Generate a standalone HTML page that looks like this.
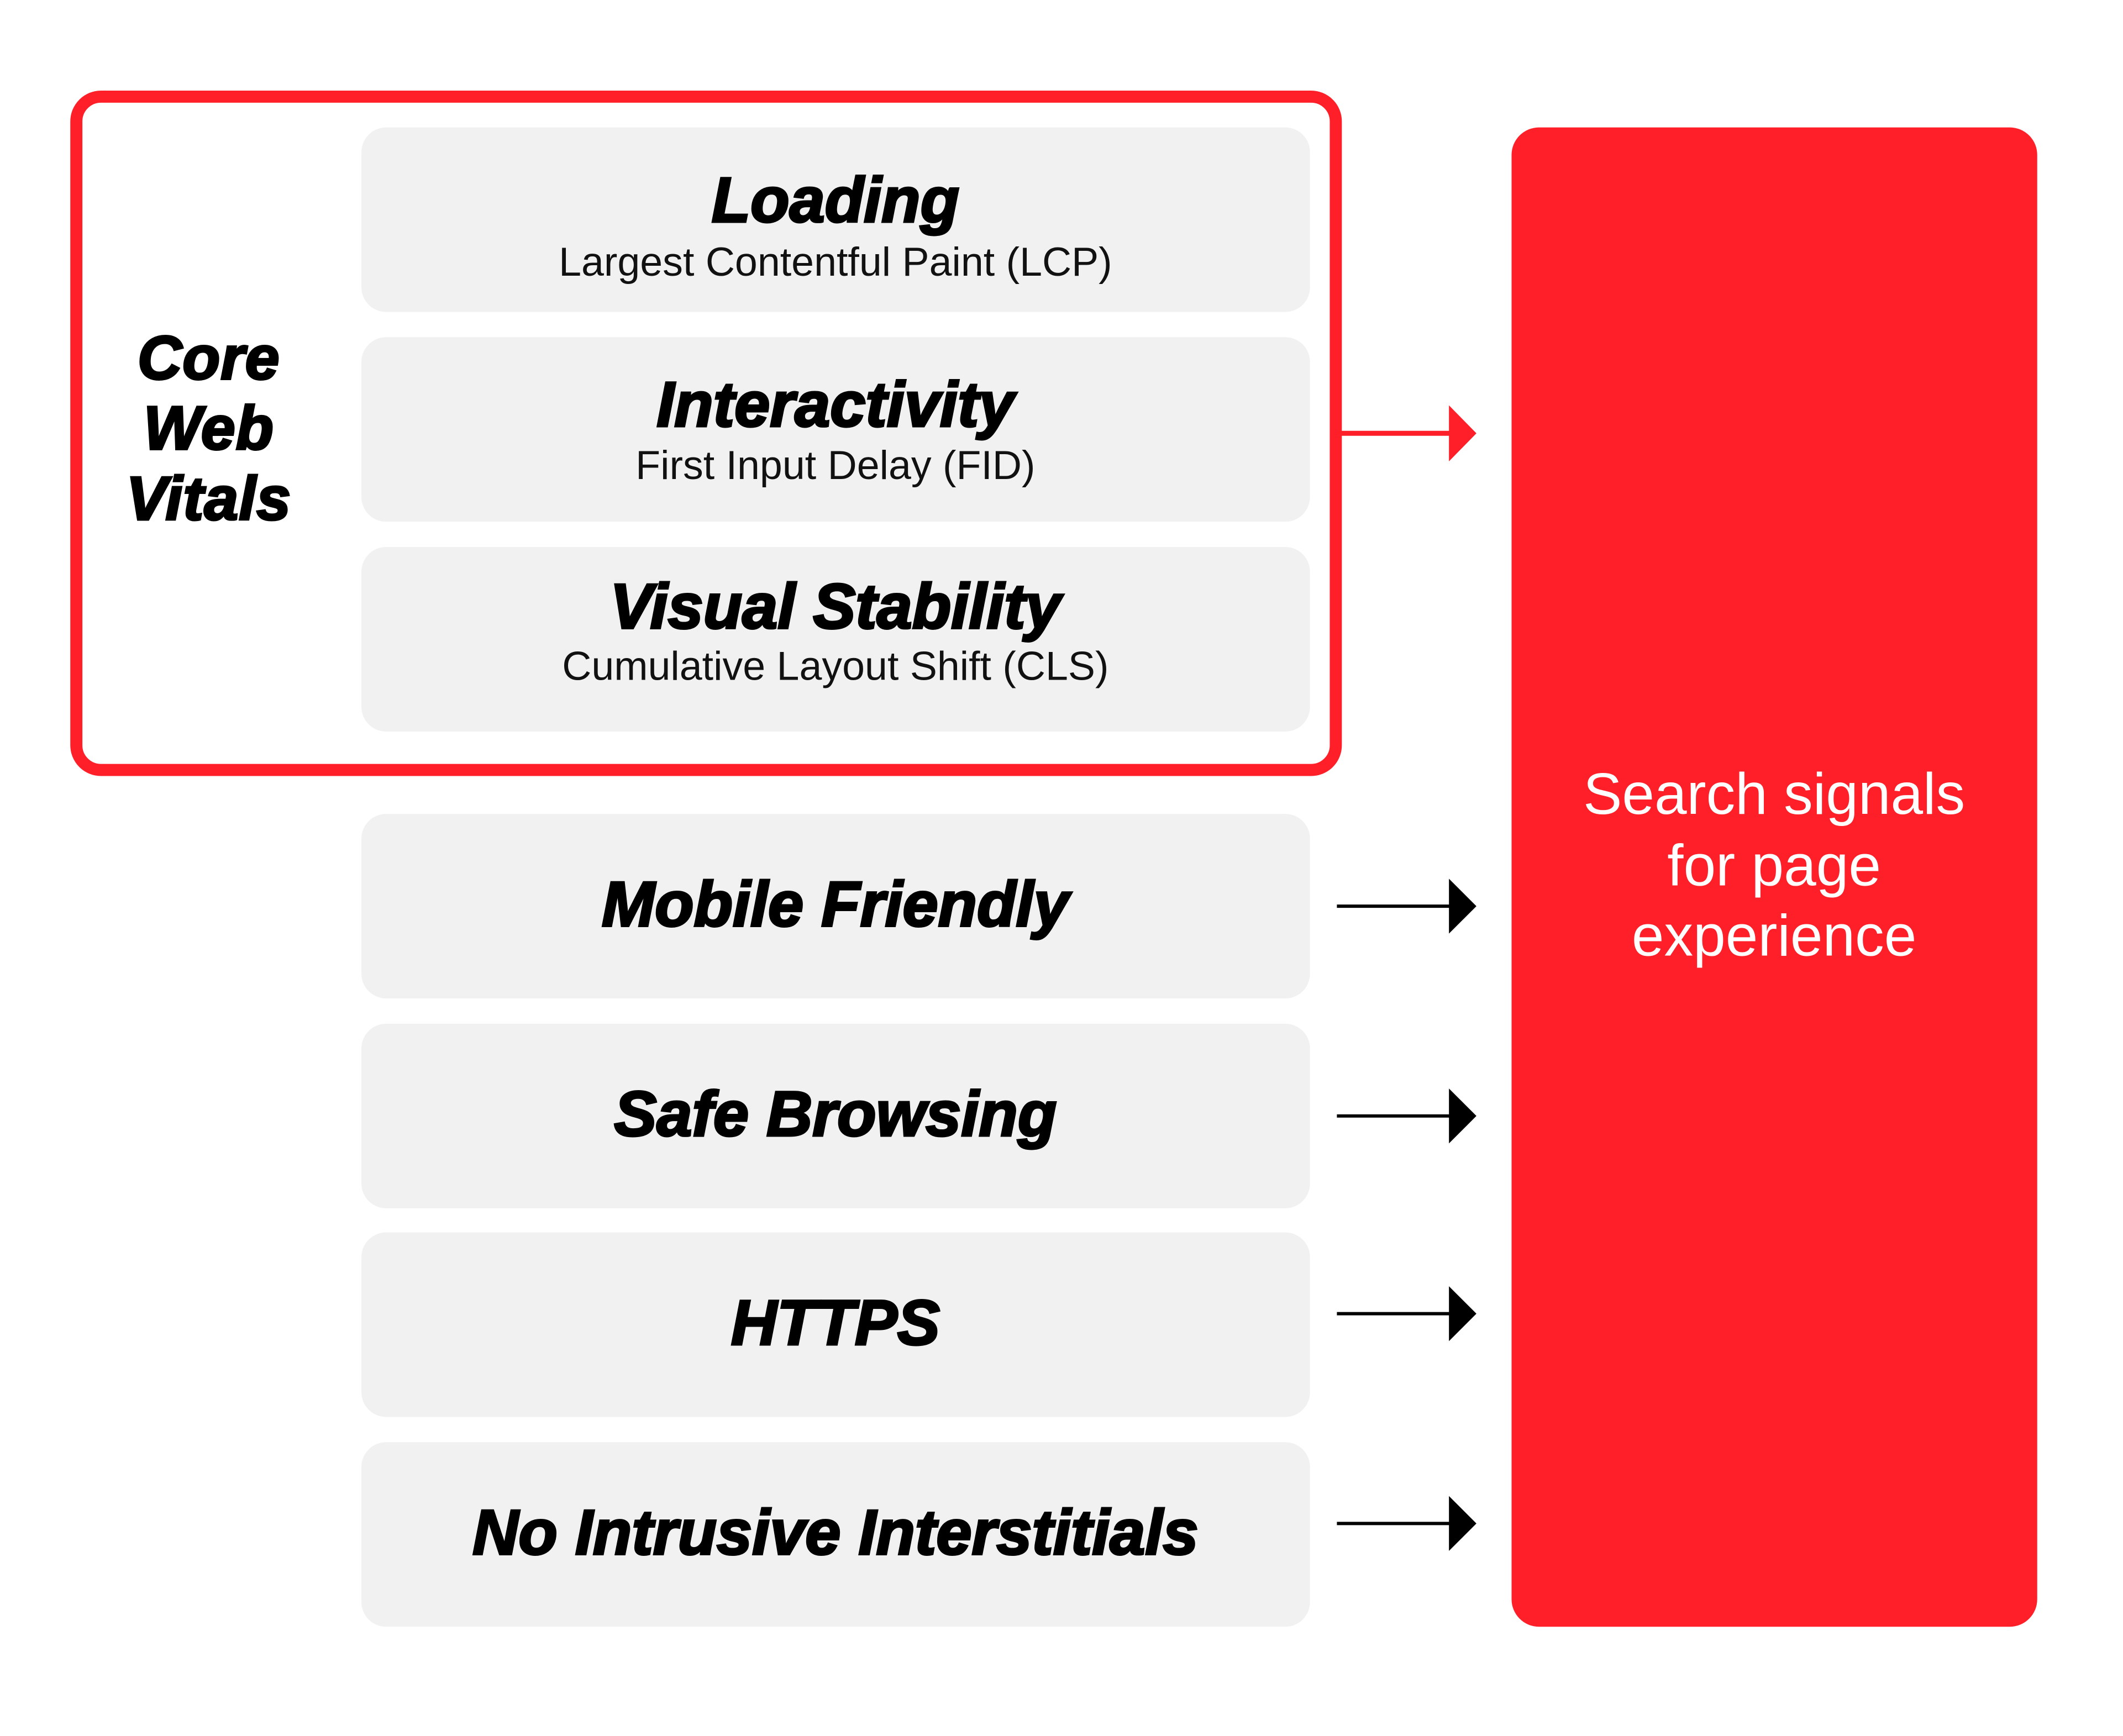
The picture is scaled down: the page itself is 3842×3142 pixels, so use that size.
<!DOCTYPE html>
<html><head><meta charset="utf-8"><style>
html,body{margin:0;padding:0;background:#fff}
svg{display:block}
.t{font-family:"Liberation Sans",sans-serif;font-weight:bold;font-style:italic;fill:#000;stroke:#000;stroke-width:4}
.s{font-family:"Liberation Sans",sans-serif;fill:#111}
</style></head><body>
<svg width="3842" height="3142" viewBox="0 0 3842 3142" xmlns="http://www.w3.org/2000/svg">
<rect x="0" y="0" width="3842" height="3142" fill="#fff"/>
<g transform="scale(0.994)">
<rect x="139" y="176" width="2293" height="1226" rx="45" fill="none" stroke="#fe1f28" stroke-width="22"/>
<g fill="#f1f1f1">
<rect x="658" y="232" width="1727" height="336" rx="45"/>
<rect x="658" y="614" width="1727" height="336" rx="45"/>
<rect x="658" y="996" width="1727" height="336" rx="45"/>
<rect x="658" y="1482" width="1727" height="336" rx="45"/>
<rect x="658" y="1864" width="1727" height="336" rx="45"/>
<rect x="658" y="2244" width="1727" height="336" rx="45"/>
<rect x="658" y="2626" width="1727" height="336" rx="45"/>
</g>
<rect x="2752" y="232" width="957" height="2730" rx="50" fill="#fe1f28"/>
<g class="t" text-anchor="middle" font-size="112" letter-spacing="1">
<text x="380" y="690">Core</text>
<text x="380" y="818">Web</text>
<text x="380" y="946">Vitals</text>
</g>
<g class="t" text-anchor="middle" font-size="116" letter-spacing="0">
<text x="1521" y="404">Loading</text>
<text x="1521" y="776">Interactivity</text>
<text x="1521" y="1144">Visual Stability</text>
<text x="1521" y="1686">Mobile Friendly</text>
<text x="1521" y="2068">Safe  Browsing</text>
<text x="1521" y="2448">HTTPS</text>
<text x="1521" y="2830">No Intrusive Interstitials</text>
</g>
<g class="s" text-anchor="middle" font-size="74">
<text x="1521" y="502">Largest Contentful Paint (LCP)</text>
<text x="1521" y="872">First Input Delay (FID)</text>
<text x="1521" y="1238">Cumulative Layout Shift (CLS)</text>
</g>
<g font-family="Liberation Sans,sans-serif" font-size="106" fill="#fff" text-anchor="middle">
<text x="3230" y="1482">Search signals</text>
<text x="3230" y="1612">for page</text>
<text x="3230" y="1740">experience</text>
</g>
<line x1="2440" y1="789" x2="2650" y2="789" stroke="#fe1f28" stroke-width="9"/>
<polygon points="2638,738 2688,789 2638,840" fill="#fe1f28"/>
<g stroke="#000" stroke-width="6">
<line x1="2434" y1="1650" x2="2650" y2="1650"/>
<line x1="2434" y1="2032" x2="2650" y2="2032"/>
<line x1="2434" y1="2392" x2="2650" y2="2392"/>
<line x1="2434" y1="2774" x2="2650" y2="2774"/>
</g>
<g fill="#000">
<polygon points="2638,1600 2688,1650 2638,1700"/>
<polygon points="2638,1982 2688,2032 2638,2082"/>
<polygon points="2638,2342 2688,2392 2638,2442"/>
<polygon points="2638,2724 2688,2774 2638,2824"/>
</g>
</g>
</svg>
</body></html>
